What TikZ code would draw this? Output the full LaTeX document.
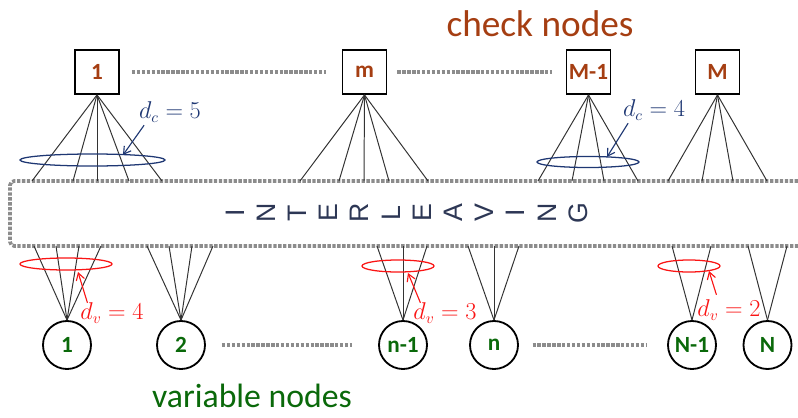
\documentclass[tikz,border=0pt]{standalone}
\usepackage{fontspec}
\setmainfont{Carlito}
\newfontfamily\lettfont{Liberation Sans}
\usetikzlibrary{positioning,arrows.meta}
\definecolor{chkbrown}{RGB}{165,62,18}
\definecolor{vargreen}{RGB}{10,105,10}
\definecolor{dcblue}{RGB}{30,55,115}
\definecolor{dvred}{RGB}{250,20,20}
\definecolor{lettcol}{RGB}{45,55,85}
\tikzset{
     chk/.style={draw,line width=1.3pt,minimum size=1.1cm,inner sep=0pt,text=chkbrown,font=\fontsize{16.5}{18}\selectfont\bfseries},
     var/.style={draw,circle,line width=1.3pt,minimum size=1.2cm,inner sep=0pt,text=vargreen,font=\fontsize{16.5}{18}\selectfont\bfseries},
     dotline/.style={gray!90,line width=2.6pt,dash pattern=on 2.4pt off 1.1pt},
     wire/.style={black!80,line width=0.7pt},
     arrow/.style={-{Straight Barb[length=5pt,width=6pt]}}
     }

\begin{document}
\begin{tikzpicture}[x=0.025cm,y=0.025cm]
                    \useasboundingbox (0,0) rectangle (798,417);
                    % Place nodes
                    \node[chk] (c1) at (97,345) {1};
                    \node[chk] (cm) at (364.5,345) {m};
                    \node[chk] (cM1) at (588.5,345) {M-1};
                    \node[chk] (cM) at (717.5,345) {M};
                    \node[var] (v1) at (67,72) {1};
                    \node[var] (v2) at (181,72) {2};
                    \node[var] (vn1) at (403,72) {n-1};
                    \node[var] (vn) at (494,72) {n};
                    \node[var] (vN1) at (692,72) {N-1};
                    \node[var] (vN) at (767.5,72) {N};
                    \node[text=chkbrown,font=\fontsize{26.5}{30}\selectfont] (chktitle) at (540,393) {check nodes};
                    \node[text=vargreen,font=\fontsize{24}{28}\selectfont] (vartitle) at (252,21) {variable nodes};
                    % Interleaver
                    \draw[dotline,rounded corners=3pt] (798,236) -| (10,171) -- (798,171);
                    \foreach \l [count=\i from 0] in {I,N,T,E,R,L,E,A,V,I,N,G}
                        \node[rotate=90,text=lettcol,font=\lettfont\fontsize{19}{22}\selectfont] (let\i) at (235+31.2*\i,204) {\l};
                    % Dotted runs
                    \draw[dotline,shorten <=0.3cm,shorten >=0.38cm] (c1) -- (cm);
                    \draw[dotline,shorten <=0.25cm,shorten >=0.35cm] (cm) -- (cM1);
                    \draw[dotline,shorten <=0.4cm,shorten >=0.65cm] (v2) -- (vn1);
                    \draw[dotline,shorten <=0.34cm,shorten >=0.49cm] (vn) -- (vN1);
                    % Draw edges
                    \foreach \src/\xs in {c1/{32,73,97,129,162},cm/{300,339,364,389,428},cM1/{538,572,604,638},cM/{668,702,733,767}}
                        \foreach \x [count=\i] in \xs {
                            \coordinate (\src-\i) at (\x,236);
                            \draw[wire] (\src.south) -- (\src-\i);
                        }
                    \foreach \src/\xs in {v1/{34,56,79,101},v2/{147,169,192,213},vn1/{377,403,427},vn/{468,494,519},vN1/{672,711},vN/{748,787}}
                        \foreach \x [count=\i] in \xs {
                            \coordinate (\src-\i) at (\x,171);
                            \draw[wire] (\src.north) -- (\src-\i);
                        }
                    % Degree rings
                    \draw[dcblue,line width=0.9pt] (92.5,257) ellipse [x radius=72.5,y radius=6];
                    \draw[dcblue,line width=0.9pt] (588,255) ellipse [x radius=51,y radius=5.5];
                    \draw[dvred,line width=0.9pt] (66,153) ellipse [x radius=46,y radius=6];
                    \draw[dvred,line width=0.9pt] (398,151) ellipse [x radius=36,y radius=6];
                    \draw[dvred,line width=0.9pt] (689,151) ellipse [x radius=31,y radius=6];
                    \node[text=dcblue,font=\fontsize{16}{19}\selectfont] (dc5) at (170,305) {$d_c = 5$};
                    \node[text=dcblue,font=\fontsize{16}{19}\selectfont] (dc4) at (654,307) {$d_c = 4$};
                    \node[text=dvred,font=\fontsize{16}{19}\selectfont] (dv4) at (112,104) {$d_v = 4$};
                    \node[text=dvred,font=\fontsize{16}{19}\selectfont] (dv3) at (445,104) {$d_v = 3$};
                    \node[text=dvred,font=\fontsize{16}{19}\selectfont] (dv2) at (729,107) {$d_v = 2$};
                    \coordinate (r5) at (123,262);
                    \coordinate (r4) at (607,260);
                    \coordinate (q4) at (78,145);
                    \coordinate (q3) at (408,144);
                    \coordinate (q2) at (709,146);
                    \draw[arrow,dcblue,line width=0.8pt] (dc5.south west) ++(10,2) -- (r5);
                    \draw[arrow,dcblue,line width=0.8pt] (dc4.south west) ++(10,2) -- (r4);
                    \draw[arrow,dvred,line width=0.8pt] (dv4.north west) ++(12,-5) -- (q4);
                    \draw[arrow,dvred,line width=0.8pt] (dv3.north west) ++(12,-5) -- (q3);
                    \draw[arrow,dvred,line width=0.8pt] (dv2.north west) ++(24,0) -- (q2);
                \end{tikzpicture}
\end{document}
